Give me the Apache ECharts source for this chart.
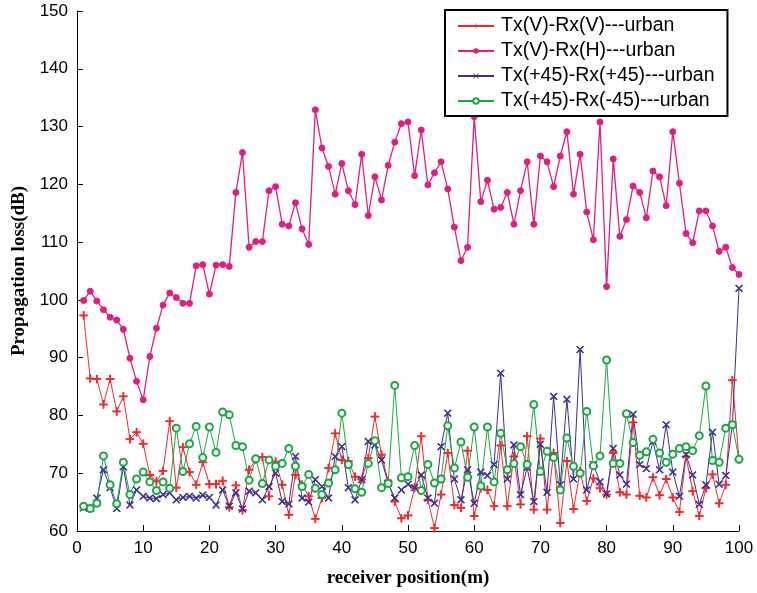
<!DOCTYPE html>
<html>
<head>
<meta charset="utf-8">
<script src="https://cdn.jsdelivr.net/npm/echarts@6/dist/echarts.min.js"></script>
<style>
  html, body { margin: 0; padding: 0; background: #fff; }
  #chart { width: 757px; height: 593px; }
</style>
</head>
<body>
<div id="chart"></div>
<script>
// Receiver positions along the route (m)
const positions = [
  1, 2, 3, 4, 5, 6, 7, 8, 9, 10, 11, 12, 13, 14, 15, 16, 17, 18, 19, 20,
  21, 22, 23, 24, 25, 26, 27, 28, 29, 30, 31, 32, 33, 34, 35, 36, 37, 38, 39, 40,
  41, 42, 43, 44, 45, 46, 47, 48, 49, 50, 51, 52, 53, 54, 55, 56, 57, 58, 59, 60,
  61, 62, 63, 64, 65, 66, 67, 68, 69, 70, 71, 72, 73, 74, 75, 76, 77, 78, 79, 80,
  81, 82, 83, 84, 85, 86, 87, 88, 89, 90, 91, 92, 93, 94, 95, 96, 97, 98, 99, 100
];

// Propagation loss (dB) per polarisation pair
const lossVV = [
  97.3, 86.4, 86.3, 81.9, 86.3, 80.7, 83.3, 75.9, 77.1, 75.1,
  69.7, 68.6, 70.4, 79.0, 67.5, 74.5, 70.2, 68.0, 71.9, 68.1,
  68.1, 68.7, 64.1, 67.9, 63.6, 70.6, 72.4, 72.8, 66.0, 72.0,
  68.0, 62.8, 69.7, 68.0, 66.0, 62.1, 65.7, 70.9, 76.9, 72.3,
  72.1, 69.4, 68.9, 72.6, 79.8, 73.2, 68.6, 65.1, 62.2, 62.7,
  67.5, 76.4, 65.4, 60.5, 66.3, 73.5, 64.5, 64.0, 73.9, 62.6,
  67.4, 67.1, 64.3, 74.8, 64.3, 72.9, 64.6, 76.4, 63.7, 76.0,
  63.7, 73.5, 61.4, 72.1, 63.8, 70.3, 65.2, 69.1, 67.4, 66.3,
  73.5, 66.7, 66.3, 78.8, 66.1, 65.8, 69.3, 66.2, 69.0, 65.8,
  63.3, 72.9, 66.9, 62.6, 67.4, 69.8, 64.8, 68.0, 86.1, 72.4
];
const lossVH = [
  99.9, 101.5, 99.8, 98.3, 97.0, 96.5, 94.9, 89.9, 85.9, 82.7,
  90.2, 95.1, 99.1, 101.2, 100.4, 99.4, 99.4, 105.9, 106.1, 101.0,
  106.0, 106.1, 105.8, 118.6, 125.5, 109.1, 110.1, 110.1, 118.9, 119.6,
  113.1, 112.8, 116.8, 112.3, 109.6, 132.9, 126.3, 123.1, 118.3, 123.6,
  118.9, 116.5, 125.2, 114.6, 121.3, 117.3, 123.3, 127.3, 130.5, 130.8,
  121.5, 129.4, 119.9, 122.0, 123.9, 119.2, 112.6, 106.8, 109.1, 131.7,
  117.0, 120.7, 115.7, 116.0, 118.6, 113.1, 118.9, 123.9, 113.1, 124.9,
  123.9, 119.6, 124.9, 129.1, 118.3, 125.2, 115.2, 110.4, 130.8, 102.3,
  124.4, 111.0, 113.9, 119.7, 118.6, 114.2, 122.3, 121.3, 116.3, 129.1,
  120.2, 111.5, 109.9, 115.4, 115.4, 112.8, 108.4, 109.1, 105.6, 104.4
];
const lossPP = [
  64.0, 63.9, 65.7, 70.6, 67.5, 63.9, 71.1, 64.5, 67.1, 66.0,
  65.7, 65.6, 66.3, 66.6, 65.4, 65.8, 66.0, 65.7, 66.2, 65.8,
  64.5, 67.1, 64.3, 66.6, 63.8, 66.9, 66.6, 65.4, 67.7, 70.0,
  65.1, 64.7, 72.9, 65.7, 65.0, 68.9, 67.7, 65.7, 72.9, 74.6,
  67.5, 65.4, 68.9, 75.5, 74.9, 72.3, 68.3, 65.7, 67.1, 68.1,
  67.5, 69.7, 65.7, 64.8, 74.6, 80.4, 69.0, 65.4, 70.6, 64.8,
  70.2, 69.6, 71.5, 87.3, 69.0, 74.9, 66.3, 71.0, 65.1, 75.0,
  66.7, 83.3, 68.0, 82.8, 69.0, 91.4, 67.1, 71.5, 68.5, 66.4,
  74.3, 69.7, 68.1, 80.2, 71.5, 70.8, 75.5, 70.6, 78.4, 70.2,
  66.0, 73.2, 69.7, 64.6, 68.0, 77.1, 68.1, 69.6, 78.4, 102.0
];
const lossPM = [
  64.3, 63.9, 64.8, 73.0, 68.0, 64.7, 71.9, 66.3, 69.0, 70.2,
  68.5, 67.0, 68.5, 67.4, 77.8, 70.3, 75.1, 78.1, 72.7, 78.0,
  73.6, 80.6, 80.1, 74.8, 74.6, 68.8, 72.5, 68.2, 72.3, 71.2,
  71.7, 74.3, 71.2, 67.7, 69.8, 67.4, 66.3, 68.3, 70.6, 80.4,
  71.5, 67.3, 66.7, 71.7, 75.6, 67.5, 68.2, 85.2, 69.2, 69.4,
  74.8, 67.0, 71.5, 68.3, 69.0, 78.2, 70.9, 75.4, 69.3, 78.0,
  67.8, 78.0, 68.5, 76.9, 70.6, 71.7, 74.6, 71.5, 81.9, 70.3,
  73.8, 72.7, 67.1, 76.1, 71.2, 70.0, 80.7, 71.3, 73.0, 89.6,
  71.7, 71.7, 80.3, 75.3, 73.1, 73.7, 75.9, 73.5, 71.9, 73.3,
  74.3, 74.6, 73.9, 76.5, 85.1, 72.2, 71.9, 77.8, 78.4, 72.4
];

const seriesNames = [
  'Tx(V)-Rx(V)---urban',
  'Tx(V)-Rx(H)---urban',
  'Tx(+45)-Rx(+45)---urban',
  'Tx(+45)-Rx(-45)---urban'
];

const xTicks = { min: 0, max: 100, step: 10 };
const yTicks = { min: 60, max: 150, step: 10 };

// Marker shapes drawn as thin filled outlines
const plusMark = 'path://M4.4,0h1.2v10h-1.2z M0,4.4h10v1.2h-10z';
const crossMark = 'path://M0.85,0 L5,4.15 L9.15,0 L10,0.85 L5.85,5 L10,9.15 L9.15,10 L5,5.85 L0.85,10 L0,9.15 L4.15,5 L0,0.85 Z';

function pairs(vals) {
  return positions.map((p, i) => [p, vals[i]]);
}

const colors = ['#ee2b30', '#e31c80', '#3f2d8e', '#19a844'];

function lineSeries(name, vals, color, symbol, size, width, extraItem) {
  return {
    name: name,
    type: 'line',
    data: pairs(vals),
    symbol: symbol,
    symbolSize: size,
    showAllSymbol: true,
    lineStyle: { color: color, width: width },
    itemStyle: Object.assign({ color: color, borderColor: color }, extraItem || {}),
    emphasis: { disabled: true },
    z: 2
  };
}

const chart = echarts.init(document.getElementById('chart'), null, { renderer: 'canvas' });

const axisFont = 'Liberation Sans, Arial, Helvetica, sans-serif';
const nameFont = 'Liberation Serif, Times New Roman, serif';

chart.setOption({
  animation: false,
  backgroundColor: '#ffffff',
  grid: { left: 77, right: 18, top: 11, bottom: 60, containLabel: false },
  legend: {
    orient: 'vertical',
    left: 445,
    top: 10,
    padding: [6, 13, 5, 12],
    itemGap: 5,
    itemWidth: 36,
    itemHeight: 7,
    borderColor: '#000',
    borderWidth: 2,
    backgroundColor: '#fff',
    textStyle: { fontSize: 19.5, fontFamily: axisFont, color: '#000', padding: [0, 0, 0, 2] },
    data: seriesNames,
    selectedMode: false
  },
  xAxis: {
    type: 'value',
    min: xTicks.min,
    max: xTicks.max,
    interval: xTicks.step,
    name: 'receiver position(m)',
    nameLocation: 'middle',
    nameGap: 38,
    nameTextStyle: { fontFamily: nameFont, fontWeight: 'bold', fontSize: 19, color: '#000' },
    axisLine: { show: true, lineStyle: { color: '#000', width: 1 } },
    axisTick: { show: true, inside: true, length: 6, lineStyle: { color: '#000' } },
    axisLabel: { fontSize: 17, fontFamily: axisFont, color: '#000', margin: 9 },
    splitLine: { show: false }
  },
  yAxis: {
    type: 'value',
    min: yTicks.min,
    max: yTicks.max,
    interval: yTicks.step,
    name: 'Propagation loss(dB)',
    nameLocation: 'middle',
    nameGap: 48,
    nameRotate: 90,
    nameTextStyle: { fontFamily: nameFont, fontWeight: 'bold', fontSize: 19, color: '#000' },
    axisLine: { show: true, lineStyle: { color: '#000', width: 1 } },
    axisTick: { show: true, inside: true, length: 6, lineStyle: { color: '#000' } },
    axisLabel: { fontSize: 17, fontFamily: axisFont, color: '#000', margin: 9 },
    splitLine: { show: false }
  },
  series: [
    lineSeries(seriesNames[0], lossVV, colors[0], plusMark, 8, 1),
    lineSeries(seriesNames[1], lossVH, colors[1], 'circle', 6, 1.3),
    lineSeries(seriesNames[2], lossPP, colors[2], crossMark, 7, 1),
    lineSeries(seriesNames[3], lossPM, colors[3], 'emptyCircle', 7, 1, { borderWidth: 1 })
  ]
});
</script>
</body>
</html>
